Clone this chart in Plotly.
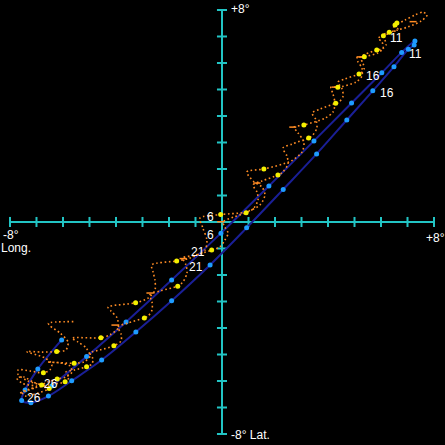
import plotly.graph_objects as go

# geocentric libration at 0h each day (Long., Lat. in degrees)
geo_day = list(range(2, 32))
geo_long = [-6.42, -5.11, -3.62, -1.90, -0.04, 1.77, 3.47, 4.89, 6.03, 6.78,
            7.28, 7.25, 7.03, 6.49, 5.69, 4.71, 3.57, 2.31, 0.93, -0.45,
            -1.90, -3.25, -4.54, -5.67, -6.55, -7.21, -7.56, -7.43, -6.95, -6.05]
geo_lat = [-6.19, -5.08, -3.77, -2.19, -0.42, 1.36, 3.06, 4.49, 5.63, 6.40,
           6.83, 6.68, 6.52, 5.86, 4.95, 3.85, 2.57, 1.23, -0.22, -1.62,
           -2.97, -4.15, -5.21, -5.99, -6.57, -6.82, -6.74, -6.34, -5.55, -4.45]

# topocentric libration at 0h each day
topo_day = list(range(1, 31))
topo_long = [-6.22, -5.58, -4.57, -3.26, -1.71, -0.05, 1.58, 3.09, 4.37, 5.37,
             6.09, 6.53, 6.60, 6.31, 5.84, 5.17, 4.29, 3.27, 2.11, 0.91,
             -0.39, -1.67, -2.93, -4.08, -5.11, -5.92, -6.52, -6.80, -6.74, -6.24]
topo_lat = [-5.92, -5.33, -4.37, -3.05, -1.47, 0.28, 2.00, 3.66, 5.08, 6.24,
            7.03, 7.43, 7.51, 7.16, 6.49, 5.58, 4.48, 3.17, 1.77, 0.35,
            -1.06, -2.42, -3.62, -4.67, -5.46, -6.03, -6.28, -6.15, -5.69, -4.89]

# topocentric track (diurnal wobble)
track_long = [-7.62, -7.06, -6.57, -6.22, -5.89, -5.66, -5.74, -6.11, -6.60, -5.58,
              -5.21, -4.98, -5.13, -5.43, -5.66, -4.57, -4.23, -3.92, -3.96, -4.19,
              -4.30, -3.26, -2.79, -2.53, -2.53, -2.60, -2.65, -1.71, -1.21, -0.64,
              -0.57, -0.72, -0.83, -0.05, 0.91, 1.43, 1.62, 1.51, 1.21, 0.94,
              1.58, 2.60, 3.02, 3.09, 2.87, 2.72, 3.09, 3.89, 4.19, 4.26,
              4.19, 4.11, 4.37, 5.06, 5.28, 5.28, 5.13, 5.09, 5.37, 5.89,
              6.08, 6.04, 5.89, 6.09, 6.45, 6.64, 6.42, 6.53, 6.91, 7.28,
              7.58, 7.74, 7.51, 7.02, 6.64, 6.31, 6.08, 6.15, 6.19, 6.04,
              5.84, 5.43, 5.21, 5.32, 5.36, 5.25, 5.17, 4.64, 4.38, 4.53,
              4.57, 4.42, 4.29, 3.70, 3.40, 3.55, 3.58, 3.40, 3.27, 2.64,
              2.30, 2.45, 2.49, 2.30, 2.11, 1.51, 1.17, 1.32, 1.36, 1.17,
              0.91, 0.45, 0.04, 0.11, 0.23, 0.11, -0.08, -0.39, -1.02, -1.47,
              -1.36, -1.32, -1.47, -1.67, -2.34, -2.72, -2.64, -2.64, -2.79, -2.93,
              -3.55, -3.92, -3.81, -3.81, -4.08, -4.60, -4.98, -4.87, -4.91, -5.11,
              -5.55, -5.89, -5.77, -5.92, -6.57, -7.25, -7.55, -7.40, -6.94, -6.52,
              -7.02, -7.55, -7.74, -7.47, -7.13, -6.80, -7.32, -7.70, -7.69, -7.25,
              -6.74, -6.49, -6.42, -6.68, -7.37, -6.79, -6.24, -5.89, -5.81, -6.11,
              -6.49, -6.55, -5.61]
track_lat = [-6.45, -6.26, -6.04, -5.92, -5.85, -5.66, -5.43, -5.32, -5.28, -5.33,
             -5.28, -5.06, -4.75, -4.53, -4.38, -4.37, -4.26, -4.00, -3.62, -3.36,
             -3.21, -3.05, -2.87, -2.57, -2.19, -1.89, -1.62, -1.47, -1.36, -1.06,
             -0.68, -0.23, 0.15, 0.28, 0.38, 0.64, 1.02, 1.32, 1.51, 1.89,
             2.00, 2.30, 2.64, 3.02, 3.36, 3.58, 3.66, 3.92, 4.15, 4.49,
             4.83, 5.09, 5.08, 5.28, 5.51, 5.81, 6.04, 6.19, 6.24, 6.38,
             6.57, 6.79, 6.94, 7.03, 7.17, 7.28, 7.40, 7.43, 7.62, 7.81,
             7.92, 7.81, 7.58, 7.36, 7.25, 7.16, 7.06, 6.87, 6.68, 6.53,
             6.49, 6.34, 6.23, 6.00, 5.77, 5.62, 5.58, 5.40, 5.28, 5.02,
             4.75, 4.53, 4.48, 4.26, 4.11, 3.85, 3.55, 3.25, 3.17, 2.94,
             2.79, 2.49, 2.19, 1.89, 1.77, 1.55, 1.40, 1.13, 0.83, 0.49,
             0.35, 0.19, 0.00, -0.19, -0.42, -0.68, -0.94, -1.06, -1.25, -1.36,
             -1.62, -1.92, -2.26, -2.42, -2.60, -2.75, -3.02, -3.32, -3.55, -3.62,
             -3.81, -3.96, -4.23, -4.49, -4.67, -4.83, -4.94, -5.17, -5.36, -5.46,
             -5.58, -5.66, -5.85, -6.03, -6.15, -6.30, -6.42, -6.57, -6.45, -6.28,
             -6.19, -6.08, -5.89, -5.85, -6.04, -6.15, -6.00, -5.74, -5.58, -5.62,
             -5.69, -5.58, -5.36, -5.13, -4.89, -4.91, -4.89, -4.83, -4.53, -4.19,
             -3.92, -3.82, -3.76]

# slow turning points where the hourly dots pile up
cusp_long = [4.26, 5.21, 1.32, -0.05, -1.47, -2.72, -4.04, 2.67, 7.21]
cusp_lat = [5.09, 6.23, 1.47, 0.01, -1.38, -2.68, -3.89, 3.58, 7.56]

ticks = list(range(-8, 9))
labelled = [6, 11, 16, 21, 26]
label_side = {6: "left", 11: "right", 16: "right", 21: "left", 26: "left"}

axis_col = "#22c4c4"
orange = "#ff8c24"
tick_len = 0.19

fig = go.Figure()

# cross axes with ticks
ax_x, ax_y = [-8, 8, None, 0, 0, None], [0, 0, None, -8, 8, None]
for t in ticks:
    ax_x += [t, t, None, -tick_len, tick_len, None]
    ax_y += [-tick_len, tick_len, None, t, t, None]
fig.add_trace(go.Scatter(x=ax_x, y=ax_y, mode="lines",
                         line=dict(color=axis_col, width=2), hoverinfo="skip"))

# geocentric
fig.add_trace(go.Scatter(x=geo_long, y=geo_lat, mode="lines",
                         line=dict(color="#1a1f96", width=2, shape="spline")))
fig.add_trace(go.Scatter(x=geo_long, y=geo_lat, mode="markers",
                         marker=dict(color="#1e9cff", size=5)))

# topocentric
fig.add_trace(go.Scatter(x=track_long, y=track_lat, mode="lines",
                         line=dict(color=orange, width=1.6, dash="1.6px,2.6px",
                                   shape="spline", smoothing=0.8)))
fig.add_trace(go.Scatter(x=cusp_long, y=cusp_lat, mode="markers",
                         marker=dict(symbol="line-ew", size=5,
                                     line=dict(color=orange, width=1.5))))
fig.add_trace(go.Scatter(x=topo_long, y=topo_lat, mode="markers",
                         marker=dict(color="#f5f000", size=5)))

font = dict(color="white", size=12, family="Liberation Sans, Arial")

# day numbers
for days, xs, ys in [(geo_day, geo_long, geo_lat), (topo_day, topo_long, topo_lat)]:
    for d in labelled:
        i = days.index(d)
        left = label_side[d] == "left"
        fig.add_annotation(x=xs[i], y=ys[i], text=str(d), showarrow=False,
                           xanchor="right" if left else "left",
                           xshift=-5 if left else 5, yshift=-2, font=font)

fig.add_annotation(x=0, y=8, text="+8°", showarrow=False, xanchor="left",
                   yanchor="middle", xshift=7, yshift=1, font=font)
fig.add_annotation(x=8, y=0, text="+8°", showarrow=False, xanchor="right",
                   yanchor="middle", xshift=13, yshift=-16, font=font)
fig.add_annotation(x=-8, y=0, text="-8°", showarrow=False, xanchor="left",
                   yanchor="middle", xshift=-8, yshift=-13, borderpad=0, font=font)
fig.add_annotation(x=-8, y=0, text="Long.", showarrow=False, xanchor="left",
                   yanchor="middle", xshift=-10, yshift=-26, borderpad=0, font=font)
fig.add_annotation(x=0, y=-8, text="-8° Lat.", showarrow=False, xanchor="left",
                   yanchor="middle", xshift=7, yshift=-1, font=font)

fig.update_layout(width=445, height=445, margin=dict(l=0, r=0, t=0, b=0),
                  paper_bgcolor="black", plot_bgcolor="black", showlegend=False,
                  xaxis=dict(range=[-8.377, 8.415], visible=False),
                  yaxis=dict(range=[-8.415, 8.377], visible=False))

fig.write_html("out.html", config={"displayModeBar": False},
               post_script="document.body.style.margin='0';")
